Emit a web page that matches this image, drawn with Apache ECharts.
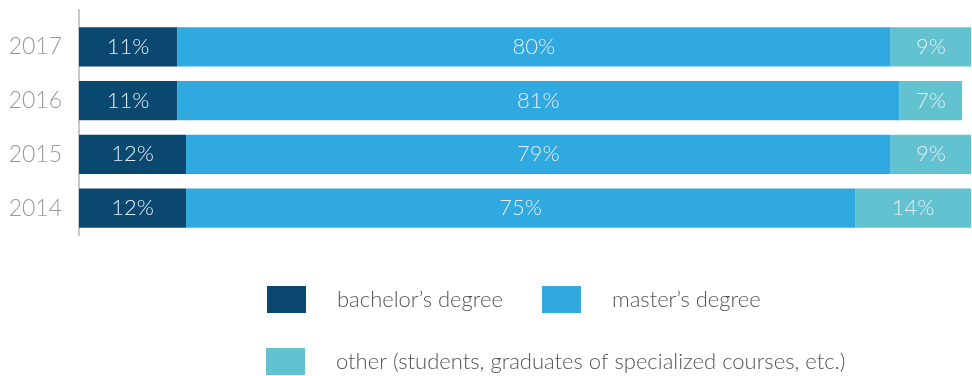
<!DOCTYPE html>
<html>
<head>
<meta charset="utf-8">
<script src="https://cdn.jsdelivr.net/npm/echarts@6/dist/echarts.min.js"></script>
<style>
  html, body { margin: 0; padding: 0; background: #fff; }
  #chart { width: 972px; height: 376px; }
</style>
</head>
<body>
<div id="chart"></div>
<script>
// Share of enrolled students by previous education, per year (percent)
const years = ['2017', '2016', '2015', '2014'];
const bachelor = [11, 11, 12, 12];
const master = [80, 81, 79, 75];
const other = [9, 7, 9, 14];
const seriesNames = ['bachelor’s degree', 'master’s degree', 'other (students, graduates of specialized courses, etc.)'];
const colors = ['#0b4870', '#30a8e0', '#62c2cf'];

const FONT = 'Lato';

const chart = echarts.init(document.getElementById('chart'), null, { renderer: 'canvas' });

function barSeries(name, data, color) {
  return {
    name: name,
    type: 'bar',
    stack: 'total',
    data: data,
    barCategoryGap: '27%',
    itemStyle: { color: color },
    label: {
      show: true,
      position: 'inside',
      formatter: '{c}%',
      color: '#e3eef5',
      fontFamily: FONT,
      fontWeight: 300,
      fontSize: 22
    },
    emphasis: { disabled: true }
  };
}

const legendText = {
  color: '#555',
  fontFamily: FONT,
  fontWeight: 300,
  fontSize: 22,
  padding: [0, 0, 0, 26]
};

chart.setOption({
  animation: false,
  color: colors,
  grid: { left: 79, right: 1, top: 20, bottom: 141 },
  legend: [
    {
      data: seriesNames.slice(0, 2),
      left: 267, top: 286,
      padding: 0,
      itemWidth: 39, itemHeight: 27, itemGap: 39,
      icon: 'rect',
      selectedMode: false,
      textStyle: legendText
    },
    {
      data: seriesNames.slice(2),
      left: 266, top: 348,
      padding: 0,
      itemWidth: 39, itemHeight: 27,
      icon: 'rect',
      selectedMode: false,
      textStyle: legendText
    }
  ],
  xAxis: {
    type: 'value',
    min: 0, max: 100,
    show: false
  },
  yAxis: {
    type: 'category',
    data: years,
    inverse: true,
    axisLine: { show: true, lineStyle: { color: '#c8c8c8', width: 2 } },
    axisTick: { show: false },
    axisLabel: {
      color: '#9a9a9a',
      fontFamily: FONT,
      fontWeight: 300,
      fontSize: 23,
      margin: 17
    }
  },
  series: [
    barSeries(seriesNames[0], bachelor, colors[0]),
    barSeries(seriesNames[1], master, colors[1]),
    barSeries(seriesNames[2], other, colors[2])
  ],
  graphic: [
    // extends the category axis line above the plot area
    {
      type: 'line',
      shape: { x1: 79, y1: 9, x2: 79, y2: 21 },
      style: { stroke: '#c8c8c8', lineWidth: 2 },
      silent: true
    }
  ]
});
</script>
</body>
</html>
